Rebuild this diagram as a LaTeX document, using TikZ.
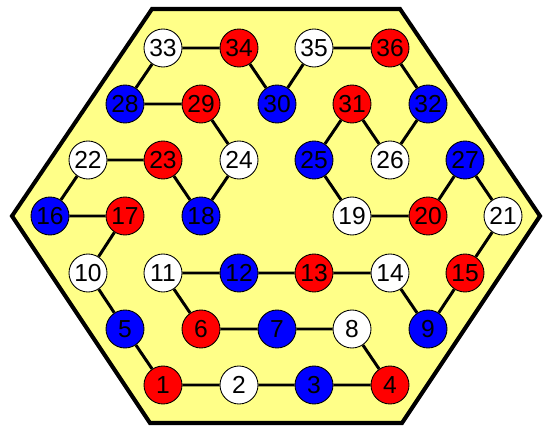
\documentclass[tikz,border=0pt]{standalone}
\usepackage{fontspec}
\setmainfont{Liberation Sans}
\definecolor{hexfill}{RGB}{255,255,136}
\tikzset{
  ball/.style={circle,draw=black,line width=0.5pt,minimum size=0.76cm,inner sep=0pt,
    font=\fontsize{14}{16}\selectfont},
  rball/.style={ball,fill=red},
  bball/.style={ball,fill=blue},
  wball/.style={ball,fill=white},
  link/.style={line width=1.7pt}
}
\begin{document}
\begin{tikzpicture}[x=0.02cm,y=-0.02cm]
\useasboundingbox (0,0) rectangle (547,432);
\draw[line width=2.3pt,fill=hexfill,line join=miter] (152,9) -- (400,9) -- (540,216) -- (402,423) -- (150,423) -- (12,216) -- cycle;
% row 0
\node[wball] (n33) at (163,48) {33};
\node[rball] (n34) at (239,48) {34};
\node[wball] (n35) at (314,48) {35};
\node[rball] (n36) at (390,48) {36};
% row 1
\node[bball] (n28) at (125,104) {28};
\node[rball] (n29) at (201,104) {29};
\node[bball] (n30) at (277,104) {30};
\node[rball] (n31) at (352,104) {31};
\node[bball] (n32) at (428,104) {32};
% row 2
\node[wball] (n22) at (88,160) {22};
\node[rball] (n23) at (163,160) {23};
\node[wball] (n24) at (239,160) {24};
\node[bball] (n25) at (314,160) {25};
\node[wball] (n26) at (390,160) {26};
\node[bball] (n27) at (465,160) {27};
% row 3
\node[bball] (n16) at (50,216) {16};
\node[rball] (n17) at (125,216) {17};
\node[bball] (n18) at (201,216) {18};
\node[wball] (n19) at (352,216) {19};
\node[rball] (n20) at (428,216) {20};
\node[wball] (n21) at (503,216) {21};
% row 4
\node[wball] (n10) at (88,273) {10};
\node[wball] (n11) at (163,273) {11};
\node[bball] (n12) at (239,273) {12};
\node[rball] (n13) at (314,273) {13};
\node[wball] (n14) at (390,273) {14};
\node[rball] (n15) at (465,273) {15};
% row 5
\node[bball] (n5) at (125,329) {5};
\node[rball] (n6) at (201,329) {6};
\node[bball] (n7) at (277,329) {7};
\node[wball] (n8) at (352,329) {8};
\node[bball] (n9) at (428,329) {9};
% row 6
\node[rball] (n1) at (163,385) {1};
\node[wball] (n2) at (239,385) {2};
\node[bball] (n3) at (314,385) {3};
\node[rball] (n4) at (390,385) {4};
% the cycle
\draw[link] (n1) -- (n2) -- (n3) -- (n4) -- (n8) -- (n7) -- (n6) -- (n11) -- (n12) -- (n13) -- (n14) -- (n9) -- (n15) -- (n21) -- (n27) -- (n20) -- (n19) -- (n25) -- (n31) -- (n26) -- (n32) -- (n36) -- (n35) -- (n30) -- (n34) -- (n33) -- (n28) -- (n29) -- (n24) -- (n18) -- (n23) -- (n22) -- (n16) -- (n17) -- (n10) -- (n5) -- (n1);
\end{tikzpicture}
\end{document}
